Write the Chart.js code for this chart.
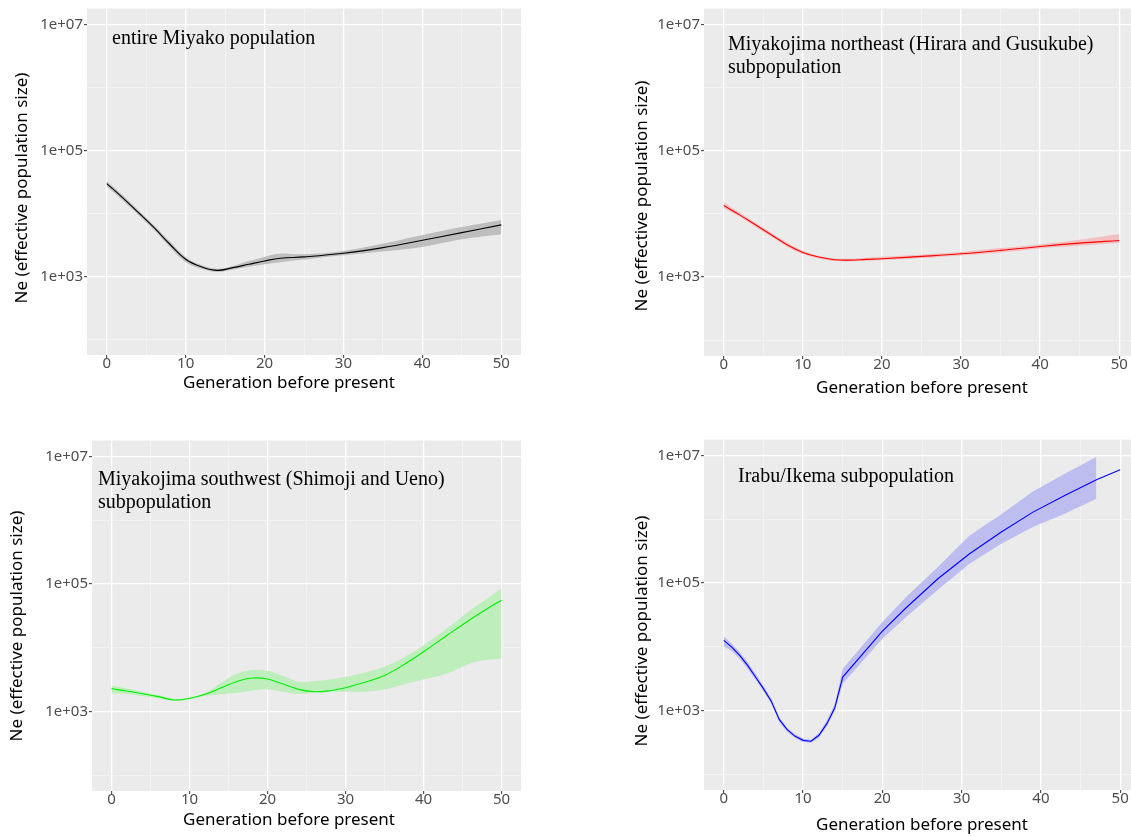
<!DOCTYPE html>
<html>
<head>
<meta charset="utf-8">
<script src="https://cdn.jsdelivr.net/npm/chart.js@4.4.0/dist/chart.umd.min.js"></script>
<style>
  html, body { margin: 0; padding: 0; background: #fff; }
  body { width: 1131px; height: 836px; overflow: hidden; position: relative; }
  canvas { position: absolute; }
</style>
</head>
<body>
<canvas id="p1" width="560" height="420" style="left:0px;top:0px"></canvas>
<canvas id="p2" width="560" height="420" style="left:617px;top:0px"></canvas>
<canvas id="p3" width="560" height="420" style="left:5px;top:432px"></canvas>
<canvas id="p4" width="560" height="420" style="left:617px;top:431px"></canvas>
<script>
// axis ticks
const xGridValues = [0, 5, 10, 15, 20, 25, 30, 35, 40, 45, 50];
const xTickLabels = [0, 10, 20, 30, 40, 50];
const yGridExponents = [2, 3, 4, 5, 6, 7];
const yLabelExponents = [3, 5, 7];
const xTitle = 'Generation before present';
const yTitle = 'Ne (effective population size)';

// entire Miyako population
const gens1 = [0, 2, 4, 6, 8, 10, 12, 14, 16, 18, 20, 22, 25, 30, 35, 40, 45, 50];
const ne1 = [29600, 17700, 10300, 5900, 3220, 1860, 1410, 1240, 1370, 1550, 1750, 1930, 2030, 2320, 2850, 3720, 4930, 6530];
const hi1 = [32600, 19500, 11200, 6460, 3550, 2030, 1510, 1320, 1460, 1750, 2030, 2290, 2230, 2520, 3300, 4530, 6070, 7830];
const lo1 = [26900, 16100, 9420, 5430, 2920, 1690, 1310, 1170, 1280, 1410, 1550, 1670, 1840, 2150, 2470, 2920, 3860, 4650];

// Miyakojima northeast
const gens2 = [0, 2, 4, 6, 8, 10, 12, 14, 16, 18, 20, 25, 30, 35, 40, 45, 50];
const ne2 = [13550, 9640, 6700, 4660, 3240, 2450, 2070, 1880, 1850, 1900, 1950, 2120, 2330, 2640, 3050, 3440, 3790];
const hi2 = [15280, 10500, 7210, 5010, 3480, 2610, 2170, 1970, 1950, 2020, 2090, 2250, 2480, 2870, 3280, 3880, 4780];
const lo2 = [12270, 8970, 6240, 4340, 3050, 2310, 1970, 1790, 1770, 1810, 1850, 2000, 2200, 2450, 2840, 3130, 3440];

// Miyakojima southwest
const gens3 = [0, 2, 4, 6, 8, 10, 12, 14, 16, 18, 20, 22, 24, 26, 28, 30, 32, 35, 38, 40, 43, 46, 48, 50];
const ne3 = [2260, 2080, 1890, 1700, 1510, 1600, 1850, 2320, 2920, 3330, 3210, 2680, 2210, 2030, 2110, 2350, 2750, 3660, 5930, 8610, 15500, 27600, 39600, 55500];
const hi3 = [2550, 2290, 2030, 1800, 1580, 1620, 1960, 2750, 3850, 4450, 4340, 3580, 2920, 2990, 3170, 3490, 3940, 5010, 7630, 10900, 19950, 38700, 56800, 86500];
const lo3 = [1910, 1870, 1740, 1600, 1450, 1540, 1740, 1850, 1960, 2110, 2210, 2030, 1870, 1960, 2010, 2030, 2030, 2210, 2750, 3170, 3940, 5650, 6370, 6760];

// Irabu/Ikema
const gens4 = [0, 1, 2, 3, 4, 5, 6, 7, 8, 9, 10, 11, 12, 13, 14, 15, 20, 23, 27, 31, 35, 39, 43, 47, 50];
const ne4 = [12500, 9840, 7290, 5080, 3330, 2190, 1380, 715, 498, 391, 338, 327, 406, 618, 1100, 3330, 17500, 40700, 116000, 287000, 627000, 1290000, 2360000, 4150000, 5960000];
const hi4 = [14500, 11100, 8220, 5730, 3760, 2410, 1520, 785, 535, 421, 360, 347, 441, 697, 1270, 4510, 24300, 60000, 177000, 556000, 1190000, 2720000, 5150000, 9420000, null];
const lo4 = [10100, 8530, 6460, 4510, 3030, 1990, 1270, 656, 457, 368, 318, 308, 372, 561, 977, 2620, 13300, 29100, 78200, 200000, 411000, 752000, 1220000, 2090000, null];

const panelBg = {
  id: 'panelBg',
  beforeDraw(chart) {
    const { ctx, chartArea: a } = chart;
    ctx.save();
    ctx.fillStyle = '#EBEBEB';
    ctx.fillRect(a.left, a.top, a.right - a.left, a.bottom - a.top);
    ctx.restore();
  }
};

// panel caption + axis titles
const panelText = {
  id: 'panelText',
  afterDraw(chart, args, opts) {
    const { ctx, chartArea: a } = chart;
    ctx.save();
    ctx.fillStyle = '#000';
    ctx.font = '20px "Liberation Serif", "Times New Roman", serif';
    ctx.textBaseline = 'alphabetic';
    ctx.textAlign = 'left';
    opts.lines.forEach((t, i) => ctx.fillText(t, a.left + opts.dx, a.top + opts.dy + i * 23));

    ctx.font = '17px "Noto Sans"';
    ctx.textAlign = 'center';
    ctx.textBaseline = 'middle';
    ctx.fillText(xTitle, opts.xt[0], opts.xt[1]);
    ctx.translate(opts.yt[0], opts.yt[1]);
    ctx.rotate(-Math.PI / 2);
    ctx.fillText(yTitle, 0, 0);
    ctx.restore();
  }
};

const axisFont = { family: 'Noto Sans', size: 15, lineHeight: 1 };
const isMajorX = c => c.tick && xTickLabels.includes(c.tick.value);
const isMajorY = c => c.tick && yLabelExponents.includes(Math.round(Math.log10(c.tick.value)));

function makePanel(id, geo, gens, ne, lo, hi, lineColor, ribbonColor, text, tension) {
  const pts = arr => gens.map((g, i) => ({ x: g, y: arr[i] }));
  new Chart(document.getElementById(id), {
    type: 'line',
    data: {
      datasets: [
        { data: pts(ne), borderColor: lineColor, borderWidth: 1.1, pointRadius: 0, fill: false, tension: tension },
        { data: pts(hi), borderColor: 'transparent', borderWidth: 0, backgroundColor: ribbonColor, pointRadius: 0, fill: '+1', tension: tension },
        { data: pts(lo), borderColor: 'transparent', borderWidth: 0, pointRadius: 0, fill: false, tension: tension }
      ]
    },
    options: {
      responsive: false,
      animation: false,
      devicePixelRatio: 1,
      layout: { padding: { left: 0, top: 8, right: 560 - geo.c, bottom: 0 } },
      plugins: {
        legend: { display: false },
        tooltip: { enabled: false },
        panelText: text
      },
      scales: {
        x: {
          type: 'linear',
          min: -2.5,
          max: 52.5,
          afterBuildTicks: s => { s.ticks = xGridValues.map(v => ({ value: v })); },
          afterFit: s => { s.height = 420 - geo.d; },
          border: { display: false },
          grid: {
            color: c => isMajorX(c) ? '#FFFFFF' : '#F6F6F6',
            lineWidth: c => isMajorX(c) ? 1.3 : 0.7,
            tickColor: c => isMajorX(c) ? '#333333' : 'rgba(0,0,0,0)',
            tickLength: 3,
            tickWidth: 1
          },
          ticks: {
            autoSkip: false,
            maxRotation: 0,
            padding: -2,
            color: '#4D4D4D',
            font: axisFont,
            callback: v => xTickLabels.includes(v) ? String(v) : ''
          }
        },
        y: {
          type: 'logarithmic',
          min: Math.pow(10, 1.75),
          max: Math.pow(10, 7.25),
          afterBuildTicks: s => { s.ticks = yGridExponents.map(e => ({ value: Math.pow(10, e) })); },
          afterFit: s => { s.width = 87; },
          border: { display: false },
          grid: {
            color: c => isMajorY(c) ? '#FFFFFF' : '#F6F6F6',
            lineWidth: c => isMajorY(c) ? 1.3 : 0.7,
            tickColor: c => isMajorY(c) ? '#333333' : 'rgba(0,0,0,0)',
            tickLength: 3,
            tickWidth: 1
          },
          ticks: {
            padding: 1,
            color: '#4D4D4D',
            font: axisFont,
            callback: v => {
              const e = Math.round(Math.log10(v));
              return yLabelExponents.includes(e) ? '1e+0' + e : '';
            }
          }
        }
      }
    },
    plugins: [panelBg, panelText]
  });
}

makePanel('p1', { c: 521, d: 355 }, gens1, ne1, lo1, hi1, '#000000', '#BEBEBE',
  { lines: ['entire Miyako population'], dx: 25, dy: 35, xt: [289, 383], yt: [22, 188] }, 0.4);
makePanel('p2', { c: 522, d: 356 }, gens2, ne2, lo2, hi2, '#FF0000', '#F2C0C0',
  { lines: ['Miyakojima northeast (Hirara and Gusukube)', 'subpopulation'], dx: 24, dy: 41, xt: [305, 388], yt: [25, 196] }, 0.4);
makePanel('p3', { c: 516, d: 359 }, gens3, ne3, lo3, hi3, '#00EE00', '#BDEEBC',
  { lines: ['Miyakojima southwest (Shimoji and Ueno)', 'subpopulation'], dx: 6, dy: 44, xt: [284, 388], yt: [12, 194] }, 0.4);
makePanel('p4', { c: 523, d: 359 }, gens4, ne4, lo4, hi4, '#0000FF', '#BDBDF0',
  { lines: ['Irabu/Ikema subpopulation'], dx: 34, dy: 42, xt: [305, 394], yt: [25, 200] }, 0);
</script>
</body>
</html>
